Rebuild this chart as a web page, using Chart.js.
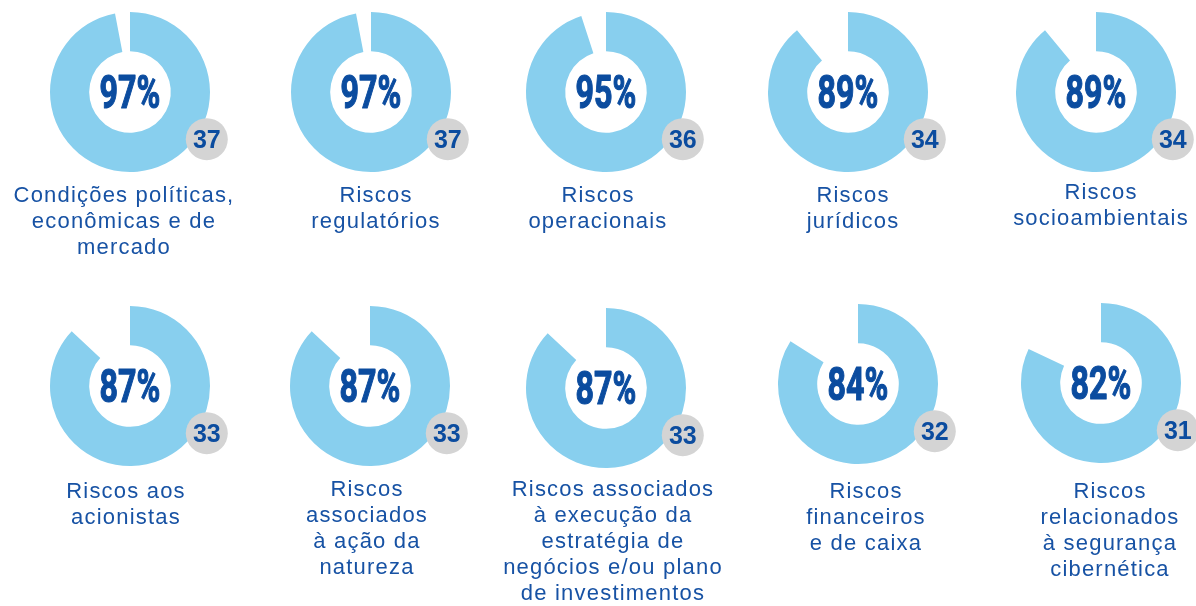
<!DOCTYPE html>
<html>
<head>
  <meta http-equiv="Content-type" content="text/html; charset=utf-8">
  <title>Riscos</title>
  <style>
    html, body { margin: 0; padding: 0; background: #fff; }
    body { width: 1196px; height: 606px; position: relative; overflow: hidden; }
    canvas.donut { position: absolute; }
    .label {
      position: absolute;
      width: 240px;
      text-align: center;
      font-family: "Liberation Sans", Arial, sans-serif;
      font-size: 22px;
      line-height: 26px;
      letter-spacing: 1.2px;
      color: #1752a4;
      white-space: nowrap;
    }
  </style>
</head>
<body>
  <script src="https://cdn.jsdelivr.net/npm/chart.js"></script>

  <script>
    // Dati del grafico
    const categories = [
      ['Condições políticas,', 'econômicas e de', 'mercado'],
      ['Riscos', 'regulatórios'],
      ['Riscos', 'operacionais'],
      ['Riscos', 'jurídicos'],
      ['Riscos', 'socioambientais'],
      ['Riscos aos', 'acionistas'],
      ['Riscos', 'associados', 'à ação da', 'natureza'],
      ['Riscos associados', 'à execução da', 'estratégia de', 'negócios e/ou plano', 'de investimentos'],
      ['Riscos', 'financeiros', 'e de caixa'],
      ['Riscos', 'relacionados', 'à segurança', 'cibernética']
    ];
    const percentages = [97, 97, 95, 89, 89, 87, 87, 87, 84, 82];
    const counts = [37, 37, 36, 34, 34, 33, 33, 33, 32, 31];

    // Posizioni (layout)
    const centerX = [130, 371, 606, 848, 1096, 130, 370, 606, 858, 1101];
    const centerY = [92, 92, 92, 92, 92, 386, 386, 388, 384, 383];
    const labelX = [124, 376, 598, 853, 1101, 126, 367, 613, 866, 1110];
    const labelTop = [182, 182, 182, 182, 179, 478, 476, 476, 478, 478];

    const RING = '#88cfee';
    const DARK = '#0b4c9f';
    const BADGE = '#d4d4d4';
    const W = 220, H = 200;

    // Plugin: percentuale al centro + badge con il numero
    const centerText = {
      id: 'centerText',
      afterDraw(chart) {
        const ctx = chart.ctx;
        const arc = chart.getDatasetMeta(0).data[0];
        const x = arc.x, y = arc.y, r = arc.outerRadius;
        const pct = chart.data.datasets[0].data[0];
        const n = chart.options.plugins.centerText.count;

        ctx.save();
        ctx.fillStyle = DARK;
        ctx.strokeStyle = DARK;
        ctx.lineWidth = 1.2;
        ctx.lineJoin = 'round';
        ctx.textAlign = 'center';
        ctx.textBaseline = 'alphabetic';
        ctx.translate(x, y + 16);
        ctx.scale(0.7, 1);
        ctx.font = 'bold 46px Roboto, "Liberation Sans", sans-serif';
        ctx.fillText(pct + '%', 0, 0);
        ctx.strokeText(pct + '%', 0, 0);
        ctx.restore();

        const bx = x + r * 0.96, by = y + r * 0.59;
        ctx.save();
        ctx.beginPath();
        ctx.arc(bx, by, 21, 0, Math.PI * 2);
        ctx.fillStyle = BADGE;
        ctx.fill();
        ctx.fillStyle = DARK;
        ctx.textAlign = 'center';
        ctx.textBaseline = 'alphabetic';
        ctx.font = 'bold 25px "Liberation Sans", Arial, sans-serif';
        ctx.fillText(String(n), bx, by + 9);
        ctx.restore();
      }
    };

    percentages.forEach((pct, i) => {
      const canvas = document.createElement('canvas');
      canvas.className = 'donut';
      canvas.width = W;
      canvas.height = H;
      canvas.style.width = W + 'px';
      canvas.style.height = H + 'px';
      canvas.style.left = (centerX[i] - W / 2) + 'px';
      canvas.style.top = (centerY[i] - H / 2) + 'px';
      document.body.appendChild(canvas);

      new Chart(canvas.getContext('2d'), {
        type: 'doughnut',
        data: {
          labels: [categories[i].join(' '), ''],
          datasets: [{
            data: [pct, 100 - pct],
            backgroundColor: [RING, 'rgba(0,0,0,0)'],
            borderWidth: 0
          }]
        },
        options: {
          responsive: false,
          animation: false,
          events: [],
          radius: 80,
          cutout: '51%',
          layout: { padding: 0 },
          plugins: {
            legend: { display: false },
            tooltip: { enabled: false },
            centerText: { count: counts[i] }
          }
        },
        plugins: [centerText]
      });

      const label = document.createElement('div');
      label.className = 'label';
      label.style.left = (labelX[i] - 120) + 'px';
      label.style.top = labelTop[i] + 'px';
      label.innerHTML = categories[i].join('<br>');
      document.body.appendChild(label);
    });
  </script>
</body>
</html>
